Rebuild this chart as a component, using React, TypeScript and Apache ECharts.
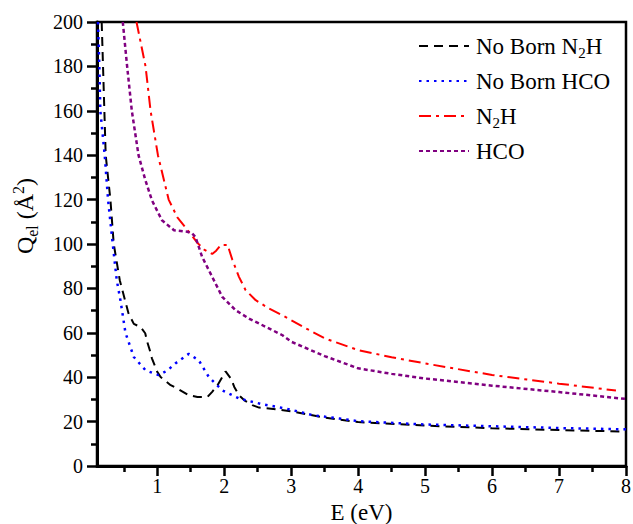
import React, { useEffect, useRef } from "react";
import * as echarts from "echarts";

const FONT = "Liberation Serif";

const seriesNames = ["No Born N2H", "No Born HCO", "N2H", "HCO"];
const legendLabels: Record<string, string> = {
  "No Born N2H": "No Born N{sub|2}H",
  "No Born HCO": "No Born HCO",
  N2H: "N{sub|2}H",
  HCO: "HCO",
};

const noBornN2H: [number, number][] = [
  [0.17, 200], [0.19, 180], [0.21, 160], [0.23, 140], [0.3, 120], [0.35, 100],
  [0.44, 83.7], [0.57, 68.8], [0.65, 64], [0.75, 62.6], [0.82, 59.8], [0.85, 55.9],
  [0.89, 52], [0.92, 48.5], [1.0, 42.4], [1.05, 40.1], [1.2, 36.4], [1.3, 34.9],
  [1.47, 31.9], [1.6, 31.1], [1.75, 31.1], [1.82, 33.4], [1.9, 36.4], [2.02, 42.6],
  [2.1, 39.4], [2.15, 35.6], [2.22, 31.9], [2.3, 29.6], [2.42, 27.4], [2.52, 26.3],
  [2.7, 25.8], [3.0, 24.6], [3.5, 21.8], [4, 19.8], [5, 18.2], [6, 17], [7, 16.2], [8, 15.5],
];

const noBornHCO: [number, number][] = [
  [0.115, 200], [0.135, 180], [0.15, 160], [0.215, 140], [0.265, 120], [0.335, 100],
  [0.395, 83.7], [0.45, 74.7], [0.525, 60], [0.65, 49.1], [0.825, 43.1], [1.02, 40.9],
  [1.15, 43], [1.27, 46.2], [1.47, 50.5], [1.62, 47.6], [1.77, 40.1], [1.97, 34.1],
  [2.22, 30.4], [2.57, 27.8], [2.92, 25.9], [3.32, 22.9], [3.72, 21.4], [4, 20.2],
  [5, 18.7], [6, 17.9], [7, 17.1], [8, 16.5],
];

const n2h: [number, number][] = [
  [0.69, 200], [0.825, 180], [0.9, 160], [1.01, 140], [1.17, 120], [1.3, 112],
  [1.5, 104.5], [1.6, 100.5], [1.7, 97.5], [1.82, 95.5], [1.88, 97], [1.95, 99.6],
  [2.05, 99.6], [2.12, 93], [2.22, 85.2], [2.32, 79.2], [2.47, 74.7], [2.67, 70.9],
  [2.87, 67.9], [3.0, 65.7], [3.22, 62], [3.5, 57.5], [4, 52.2], [4.5, 49], [5, 46.2],
  [6, 41], [7, 37.1], [7.85, 34],
];

const hco: [number, number][] = [
  [0.485, 200], [0.55, 180], [0.62, 160], [0.72, 140], [0.82, 129], [0.92, 119.7],
  [1.07, 110.7], [1.25, 106.2], [1.45, 105.5], [1.52, 104.8], [1.57, 103.2], [1.67, 94.2],
  [1.82, 85.2], [1.97, 76.2], [2.17, 70.2], [2.37, 66.4], [2.62, 62.7], [2.87, 58.9],
  [3.0, 56], [3.5, 49.5], [4, 44], [4.5, 41.5], [5, 39.4], [6, 36.2], [7, 33.3], [8, 30.2],
];

const xMajorTicks = [1, 2, 3, 4, 5, 6, 7, 8];
const xMinorTicks = [0.5, 1.5, 2.5, 3.5, 4.5, 5.5, 6.5, 7.5];

export default function App() {
  const ref = useRef<HTMLDivElement>(null);
  useEffect(() => {
    const chart = echarts.init(ref.current!, null, { renderer: "svg" });
    const tickStyle = { color: "#000", width: 2.5 };
    const xBase = {
      type: "value",
      min: 0.1,
      max: 8,
      splitLine: { show: false },
    };
    chart.setOption({
      animation: false,
      backgroundColor: "#fff",
      textStyle: { fontFamily: FONT },
      grid: {
        left: 97,
        right: 7,
        top: 22,
        bottom: 58,
        outerBoundsMode: "none",
        containLabel: false,
        show: true,
        borderColor: "#000",
        borderWidth: 2.5,
      },
      legend: {
        orient: "vertical",
        left: 413,
        top: 27,
        itemWidth: 50,
        itemHeight: 14,
        itemGap: 7,
        data: seriesNames,
        itemStyle: { opacity: 0, borderWidth: 0 },
        formatter: (n: string) => legendLabels[n],
        textStyle: {
          fontFamily: FONT,
          fontSize: 23,
          color: "#000",
          lineHeight: 28,
          padding: [0, 0, 0, 2],
          rich: {
            sub: { fontFamily: FONT, fontSize: 15, lineHeight: 14, verticalAlign: "bottom", color: "#000" },
          },
        },
      },
      xAxis: [
        {
          ...xBase,
          position: "bottom",
          axisLine: { show: true, onZero: false, lineStyle: { color: "#000", width: 3 } },
          axisTick: { show: true, customValues: xMajorTicks, length: 10, lineStyle: tickStyle },
          axisLabel: {
            customValues: xMajorTicks,
            fontFamily: FONT,
            fontSize: 20,
            color: "#000",
            margin: 10,
          },
          name: "E (eV)",
          nameLocation: "middle",
          nameGap: 33,
          nameTextStyle: { fontFamily: FONT, fontSize: 23, color: "#000" },
        },
        {
          ...xBase,
          position: "bottom",
          axisLine: { show: false, onZero: false },
          axisTick: { show: true, customValues: xMinorTicks, length: 6, lineStyle: tickStyle },
          axisLabel: { show: false },
        },
      ],
      yAxis: {
        type: "value",
        min: 0,
        max: 200,
        interval: 20,
        splitLine: { show: false },
        axisLine: { show: true, onZero: false, lineStyle: { color: "#000", width: 3 } },
        axisTick: { show: true, length: 10, lineStyle: tickStyle },
        minorTick: { show: true, splitNumber: 2, length: 6, lineStyle: tickStyle },
        minorSplitLine: { show: false },
        axisLabel: { fontFamily: FONT, fontSize: 20, color: "#000", margin: 14 },
      },
      graphic: [
        {
          type: "text",
          x: 25,
          y: 216,
          rotation: Math.PI / 2,
          style: {
            text: "{q|Q}{sub|el}{q| (Å}{sup|2}{q|)}",
            align: "center",
            verticalAlign: "middle",
            fill: "#000",
            rich: {
              q: { fontFamily: FONT, fontSize: 24, lineHeight: 30, fill: "#000" },
              sub: { fontFamily: FONT, fontSize: 16, lineHeight: 16, verticalAlign: "bottom", fill: "#000" },
              sup: { fontFamily: FONT, fontSize: 16, lineHeight: 16, verticalAlign: "top", fill: "#000" },
            },
          },
        },
      ],
      series: [
        {
          name: "No Born N2H",
          type: "line",
          data: noBornN2H,
          symbol: "none",
          lineStyle: { color: "#000", width: 2, type: [9, 6] },
          itemStyle: { color: "#000" },
        },
        {
          name: "No Born HCO",
          type: "line",
          data: noBornHCO,
          symbol: "none",
          lineStyle: { color: "#0000ff", width: 2.5, type: [2.5, 5] },
          itemStyle: { color: "#0000ff" },
        },
        {
          name: "N2H",
          type: "line",
          data: n2h,
          symbol: "none",
          lineStyle: { color: "#ff0000", width: 2, type: [12, 5, 3, 5] },
          itemStyle: { color: "#ff0000" },
        },
        {
          name: "HCO",
          type: "line",
          data: hco,
          symbol: "none",
          lineStyle: { color: "#800080", width: 2.5, type: [4, 3] },
          itemStyle: { color: "#800080" },
        },
      ],
    });
    return () => chart.dispose();
  }, []);
  return (
    <div
      ref={ref}
      style={{ position: "fixed", left: 0, top: 0, width: 633, height: 524 }}
    />
  );
}
